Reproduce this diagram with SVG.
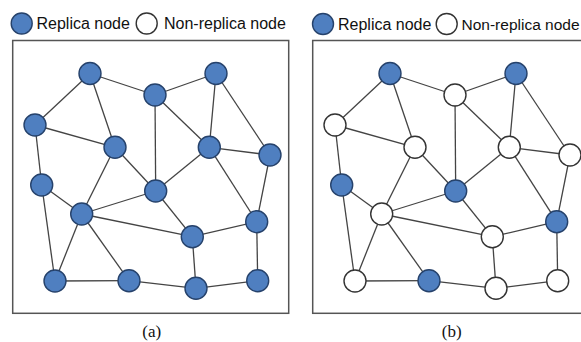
<svg xmlns="http://www.w3.org/2000/svg" width="581" height="342" viewBox="0 0 581 342">
<defs>
<style>
.frame{fill:none;stroke:#555;stroke-width:1.5}
.edge{stroke:#444;stroke-width:1.3;fill:none}
.rep{fill:#4F7FC0;stroke:#26426B;stroke-width:1.4}
.non{fill:#fff;stroke:#333;stroke-width:1.4}
.leg{font-family:"Liberation Sans",Arial,sans-serif;font-size:16px;fill:#111}
.cap{font-family:"Liberation Serif","Times New Roman",serif;font-size:17px;fill:#111;text-anchor:middle}
</style>
</defs>
<rect width="581" height="342" fill="#fff"/>

<g id="legend-a">
<circle class="rep" cx="21.7" cy="23.5" r="10.5"/>
<text class="leg" x="36.5" y="29">Replica node</text>
<circle class="non" cx="146.7" cy="23.5" r="10.5"/>
<text class="leg" x="164" y="29">Non-replica node</text>
</g>
<g id="legend-b">
<circle class="rep" cx="323" cy="24" r="10.5"/>
<text class="leg" x="338" y="29.5">Replica node</text>
<circle class="non" cx="446.7" cy="24" r="10.5"/>
<text class="leg" x="461.5" y="29.5" style="font-size:15.5px">Non-replica node</text>
</g>

<g id="frames">
<rect class="frame" x="12.7" y="40.5" width="276" height="272.8"/>
<rect class="frame" x="312.7" y="40.5" width="276" height="272.8"/>
</g>

<g id="connectors-a" class="edge">
<line x1="90" y1="73.5" x2="155" y2="95"/>
<line x1="90" y1="73.5" x2="35" y2="125"/>
<line x1="90" y1="73.5" x2="115" y2="147.3"/>
<line x1="155" y1="95" x2="216" y2="73.5"/>
<line x1="155" y1="95" x2="155.7" y2="191"/>
<line x1="155" y1="95" x2="209.3" y2="147.3"/>
<line x1="216" y1="73.5" x2="209.3" y2="147.3"/>
<line x1="216" y1="73.5" x2="270" y2="155"/>
<line x1="35" y1="125" x2="115" y2="147.3"/>
<line x1="35" y1="125" x2="41.7" y2="185"/>
<line x1="115" y1="147.3" x2="155.7" y2="191"/>
<line x1="115" y1="147.3" x2="81.7" y2="214"/>
<line x1="209.3" y1="147.3" x2="270" y2="155"/>
<line x1="209.3" y1="147.3" x2="155.7" y2="191"/>
<line x1="209.3" y1="147.3" x2="256.7" y2="221.7"/>
<line x1="270" y1="155" x2="256.7" y2="221.7"/>
<line x1="41.7" y1="185" x2="81.7" y2="214"/>
<line x1="41.7" y1="185" x2="55" y2="281"/>
<line x1="81.7" y1="214" x2="155.7" y2="191"/>
<line x1="81.7" y1="214" x2="192.3" y2="236.7"/>
<line x1="81.7" y1="214" x2="55" y2="281"/>
<line x1="81.7" y1="214" x2="129" y2="280.7"/>
<line x1="155.7" y1="191" x2="192.3" y2="236.7"/>
<line x1="192.3" y1="236.7" x2="256.7" y2="221.7"/>
<line x1="192.3" y1="236.7" x2="196" y2="288.3"/>
<line x1="256.7" y1="221.7" x2="257.7" y2="280.7"/>
<line x1="55" y1="281" x2="129" y2="280.7"/>
<line x1="129" y1="280.7" x2="196" y2="288.3"/>
<line x1="196" y1="288.3" x2="257.7" y2="280.7"/>
</g>
<g id="connectors-b" class="edge" transform="translate(300,0)">
<line x1="90" y1="73.5" x2="155" y2="95"/>
<line x1="90" y1="73.5" x2="35" y2="125"/>
<line x1="90" y1="73.5" x2="115" y2="147.3"/>
<line x1="155" y1="95" x2="216" y2="73.5"/>
<line x1="155" y1="95" x2="155.7" y2="191"/>
<line x1="155" y1="95" x2="209.3" y2="147.3"/>
<line x1="216" y1="73.5" x2="209.3" y2="147.3"/>
<line x1="216" y1="73.5" x2="270" y2="155"/>
<line x1="35" y1="125" x2="115" y2="147.3"/>
<line x1="35" y1="125" x2="41.7" y2="185"/>
<line x1="115" y1="147.3" x2="155.7" y2="191"/>
<line x1="115" y1="147.3" x2="81.7" y2="214"/>
<line x1="209.3" y1="147.3" x2="270" y2="155"/>
<line x1="209.3" y1="147.3" x2="155.7" y2="191"/>
<line x1="209.3" y1="147.3" x2="256.7" y2="221.7"/>
<line x1="270" y1="155" x2="256.7" y2="221.7"/>
<line x1="41.7" y1="185" x2="81.7" y2="214"/>
<line x1="41.7" y1="185" x2="55" y2="281"/>
<line x1="81.7" y1="214" x2="155.7" y2="191"/>
<line x1="81.7" y1="214" x2="192.3" y2="236.7"/>
<line x1="81.7" y1="214" x2="55" y2="281"/>
<line x1="81.7" y1="214" x2="129" y2="280.7"/>
<line x1="155.7" y1="191" x2="192.3" y2="236.7"/>
<line x1="192.3" y1="236.7" x2="256.7" y2="221.7"/>
<line x1="192.3" y1="236.7" x2="196" y2="288.3"/>
<line x1="256.7" y1="221.7" x2="257.7" y2="280.7"/>
<line x1="55" y1="281" x2="129" y2="280.7"/>
<line x1="129" y1="280.7" x2="196" y2="288.3"/>
<line x1="196" y1="288.3" x2="257.7" y2="280.7"/>
</g>

<g id="a-A"><circle class="rep" cx="90" cy="73.5" r="11"/></g>
<g id="a-B"><circle class="rep" cx="155" cy="95" r="11"/></g>
<g id="a-C"><circle class="rep" cx="216" cy="73.5" r="11"/></g>
<g id="a-D"><circle class="rep" cx="35" cy="125" r="11"/></g>
<g id="a-E"><circle class="rep" cx="115" cy="147.3" r="11"/></g>
<g id="a-F"><circle class="rep" cx="209.3" cy="147.3" r="11"/></g>
<g id="a-G"><circle class="rep" cx="270" cy="155" r="11"/></g>
<g id="a-H"><circle class="rep" cx="41.7" cy="185" r="11"/></g>
<g id="a-I"><circle class="rep" cx="155.7" cy="191" r="11"/></g>
<g id="a-J"><circle class="rep" cx="81.7" cy="214" r="11"/></g>
<g id="a-K"><circle class="rep" cx="192.3" cy="236.7" r="11"/></g>
<g id="a-L"><circle class="rep" cx="256.7" cy="221.7" r="11"/></g>
<g id="a-M"><circle class="rep" cx="55" cy="281" r="11"/></g>
<g id="a-N"><circle class="rep" cx="129" cy="280.7" r="11"/></g>
<g id="a-O"><circle class="rep" cx="196" cy="288.3" r="11"/></g>
<g id="a-P"><circle class="rep" cx="257.7" cy="280.7" r="11"/></g>

<g id="b-A"><circle class="rep" cx="390" cy="73.5" r="11"/></g>
<g id="b-B"><circle class="non" cx="455" cy="95" r="11"/></g>
<g id="b-C"><circle class="rep" cx="516" cy="73.5" r="11"/></g>
<g id="b-D"><circle class="non" cx="335" cy="125" r="11"/></g>
<g id="b-E"><circle class="non" cx="415" cy="147.3" r="11"/></g>
<g id="b-F"><circle class="non" cx="509.3" cy="147.3" r="11"/></g>
<g id="b-G"><circle class="non" cx="570" cy="155" r="11"/></g>
<g id="b-H"><circle class="rep" cx="341.7" cy="185" r="11"/></g>
<g id="b-I"><circle class="rep" cx="455.7" cy="191" r="11"/></g>
<g id="b-J"><circle class="non" cx="381.7" cy="214" r="11"/></g>
<g id="b-K"><circle class="non" cx="492.3" cy="236.7" r="11"/></g>
<g id="b-L"><circle class="rep" cx="556.7" cy="221.7" r="11"/></g>
<g id="b-M"><circle class="non" cx="355" cy="281" r="11"/></g>
<g id="b-N"><circle class="rep" cx="429" cy="280.7" r="11"/></g>
<g id="b-O"><circle class="non" cx="496" cy="288.3" r="11"/></g>
<g id="b-P"><circle class="non" cx="557.7" cy="280.7" r="11"/></g>

<g id="captions">
<text class="cap" x="151.7" y="337">(a)</text>
<text class="cap" x="451.7" y="337">(b)</text>
</g>
</svg>
